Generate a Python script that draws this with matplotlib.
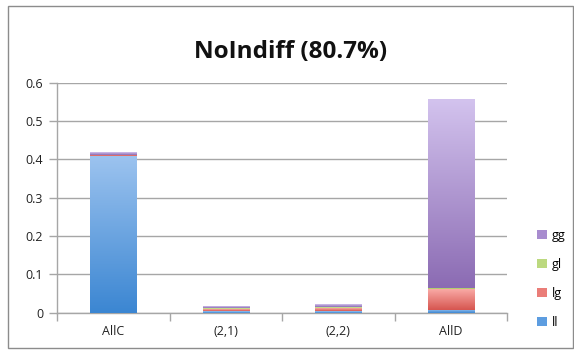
import numpy as np
import matplotlib
matplotlib.use("Agg")
import matplotlib.pyplot as plt
from matplotlib.colors import LinearSegmentedColormap
from matplotlib.patches import Patch, Rectangle

plt.rcParams['font.family'] = ['Open Sans', 'DejaVu Sans']

categories = ["AllC", "(2,1)", "(2,2)", "AllD"]
series_names = ["ll", "lg", "gl", "gg"]
ll = [0.408, 0.005, 0.005, 0.008]
lg = [0.003, 0.004, 0.007, 0.053]
gl = [0.001, 0.002, 0.002, 0.003]
gg = [0.006, 0.004, 0.006, 0.493]
title = "NoIndiff (80.7%)"

# (top colour, bottom colour) for each series' vertical gradient
gradients = {
    "ll": ("#9cc3ef", "#3b86d2"),
    "lg": ("#f9aaa6", "#d6554f"),
    "gl": ("#d8eca4", "#a3c45c"),
    "gg": ("#d3c3ee", "#8b6bb3"),
}
legend_colors = {"ll": "#5d9de0", "lg": "#ea7d78", "gl": "#bcd97f", "gg": "#a88ccf"}

fig = plt.figure(figsize=(5.74, 3.51), dpi=100)
fig.patch.set_facecolor("white")
fig.add_artist(Rectangle((8 / 574, 3 / 351), 565 / 574, 342 / 351,
                         transform=fig.transFigure, fill=False,
                         edgecolor="#8c8c8c", linewidth=1.0))

ax = fig.add_axes([57 / 574, 38.3 / 351, 450 / 574, 230 / 351])
x = np.arange(len(categories))
width = 0.41
bottom = np.zeros(len(categories))
for name, vals in zip(series_names, [ll, lg, gl, gg]):
    bars = ax.bar(x, vals, width, bottom=bottom, color="none", edgecolor="none", zorder=3)
    cmap = LinearSegmentedColormap.from_list(name, [gradients[name][1], gradients[name][0]])
    grad = np.linspace(0, 1, 256).reshape(-1, 1)
    for b in bars:
        x0, y0 = b.get_x(), b.get_y()
        ax.imshow(grad, cmap=cmap, origin="lower", aspect="auto",
                  extent=(x0, x0 + b.get_width(), y0, y0 + b.get_height()),
                  zorder=3, interpolation="bilinear")
    bottom += np.array(vals)

ax.set_xlim(-0.5, 3.5)
ax.set_ylim(0, 0.6)
ax.set_yticks(np.arange(0, 0.61, 0.1))
ax.set_yticklabels(["0", "0.1", "0.2", "0.3", "0.4", "0.5", "0.6"], fontsize=9)
ax.yaxis.grid(True, color="#a6a6a6", linewidth=1.0, zorder=1)
ax.set_axisbelow(True)
ax.tick_params(axis="y", length=6, color="#a6a6a6", width=1.0, pad=4, labelcolor="#222222")

ax.set_xticks(x)
ax.set_xticklabels(categories, fontsize=9, color="#222222")
ax.tick_params(axis="x", length=0, pad=9)
ax.set_xticks(np.arange(-0.5, 3.6, 1.0), minor=True)
ax.tick_params(axis="x", which="minor", length=6, color="#a6a6a6", width=1.0)

for s in ["top", "right"]:
    ax.spines[s].set_visible(False)
for s in ["left", "bottom"]:
    ax.spines[s].set_color("#a6a6a6")
    ax.spines[s].set_linewidth(1.0)

fig.text(0.5055, 0.852, title, ha="center", va="center", fontsize=17.5, fontweight="bold",
         color="#111111")

handles = [Patch(facecolor=legend_colors[n], edgecolor="none", label=n)
           for n in reversed(series_names)]
fig.legend(handles=handles, loc="center left", bbox_to_anchor=(0.925, 0.205),
           bbox_transform=fig.transFigure, frameon=False, fontsize=9,
           handlelength=0.75, handleheight=0.75, handletextpad=0.4, labelspacing=1.28,
           borderpad=0)

fig.savefig("out.png", dpi=100, facecolor="white")
